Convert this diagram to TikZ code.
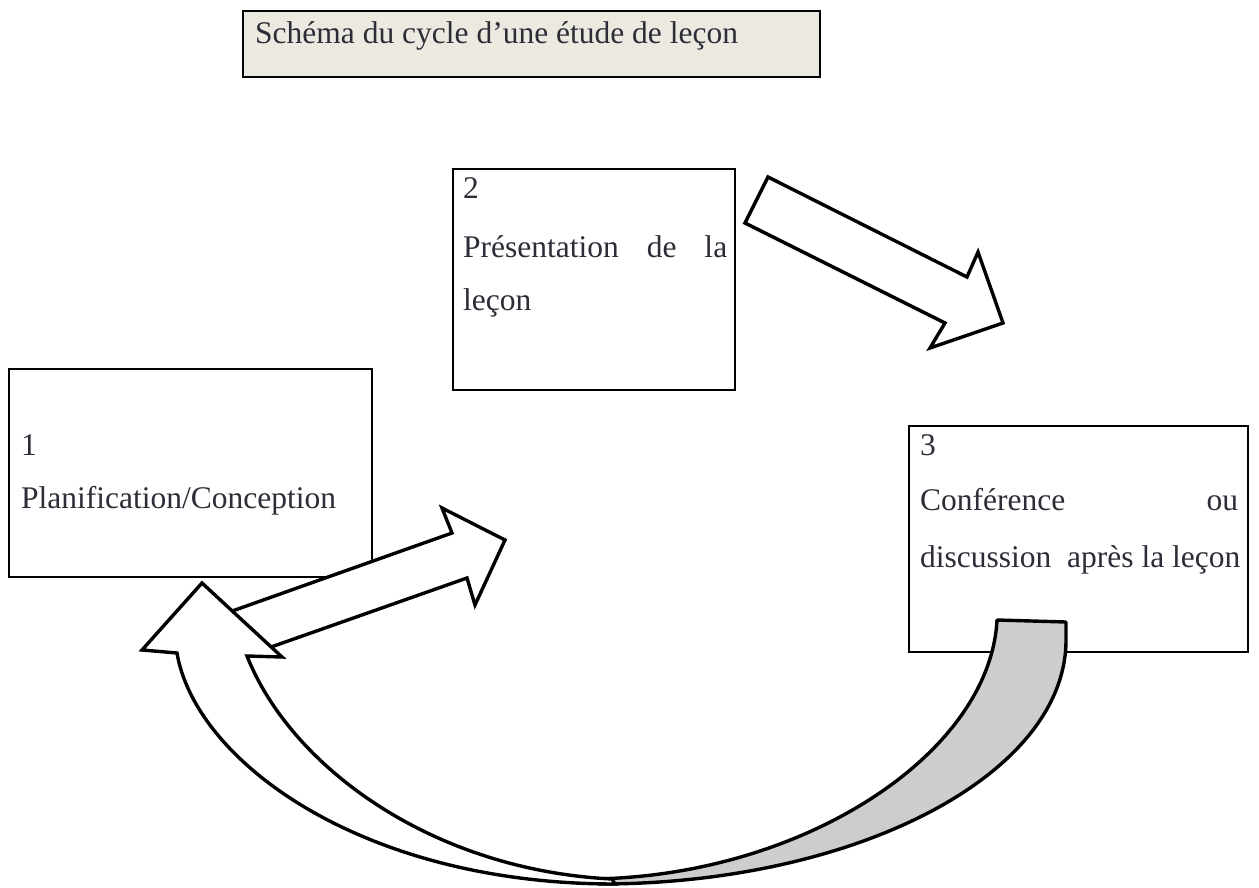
\documentclass[tikz,border=0pt]{standalone}
\usepackage{fontspec}
\setmainfont{Liberation Serif}
\definecolor{textc}{RGB}{45,45,55}
\definecolor{titlebg}{RGB}{236,234,224}
\definecolor{backgray}{RGB}{205,205,205}
\begin{document}
\begin{tikzpicture}[x=1pt,y=-1pt,
  boxline/.style={draw=black, line width=2pt, fill=white},
  txt/.style={text=textc, font=\fontsize{31.5}{36}\selectfont, inner sep=0pt, anchor=base west},
  blockarrow/.style={draw=black, line width=3.4pt, line join=miter, miter limit=4, fill=white},
]
\useasboundingbox (0,0) rectangle (1259,888);
\fill[white] (0,0) rectangle (1259,888);

% title
\draw[line width=2.4pt, fill=titlebg] (243,11) rectangle (820,77);
\node[txt] (title) at (255,44) {Schéma du cycle d’une étude de leçon};

% boxes
\draw[boxline] (453,169) rectangle (735,390);
\node[txt] (b2n) at (463,198) {2};
\node[txt] (b2a) at (463,257) {\makebox[264pt][s]{Présentation de la}};
\node[txt] (b2b) at (463,310) {leçon};

\draw[boxline] (9,369) rectangle (372,577);
\node[txt] (b1n) at (21,455) {1};
\node[txt] (b1a) at (21,508) {Planification/Conception};

\draw[boxline] (909,426) rectangle (1248,652);
\node[txt] (b3n) at (920,455) {3};
\node[txt] (b3a) at (920,510) {\makebox[318pt][s]{Conférence ou}};
\node[txt] (b3b) at (920,567) {discussion\ \ après la leçon};

% arrow 2 -> 3
\draw[blockarrow] (768,177) -- (967,277) -- (978,252) -- (1003,323) -- (930,348) -- (945,323) -- (745,223) -- cycle;

% curved arrow: back (gray) part
\draw[blockarrow, fill=backgray, line join=round]
  (997,620) .. controls (990,755) and (800,878) .. (588,879)
  -- (600,884) .. controls (855,884) and (1066,775) .. (1066,640)
  -- (1066,622) -- cycle;

% arrow 1 -> 2
\draw[blockarrow] (221,615) -- (452,533) -- (442,508) -- (505,540) -- (475,605) -- (467,578) -- (237,659) -- cycle;

% curved arrow: front (white) part with head
\draw[blockarrow]
  (202,583) -- (282,657) -- (247,656)
  .. controls (290,765) and (430,870) .. (612,879)
  -- (615,884) .. controls (360,884) and (195,760) .. (177,653)
  -- (142,650) -- cycle;
\end{tikzpicture}
\end{document}
